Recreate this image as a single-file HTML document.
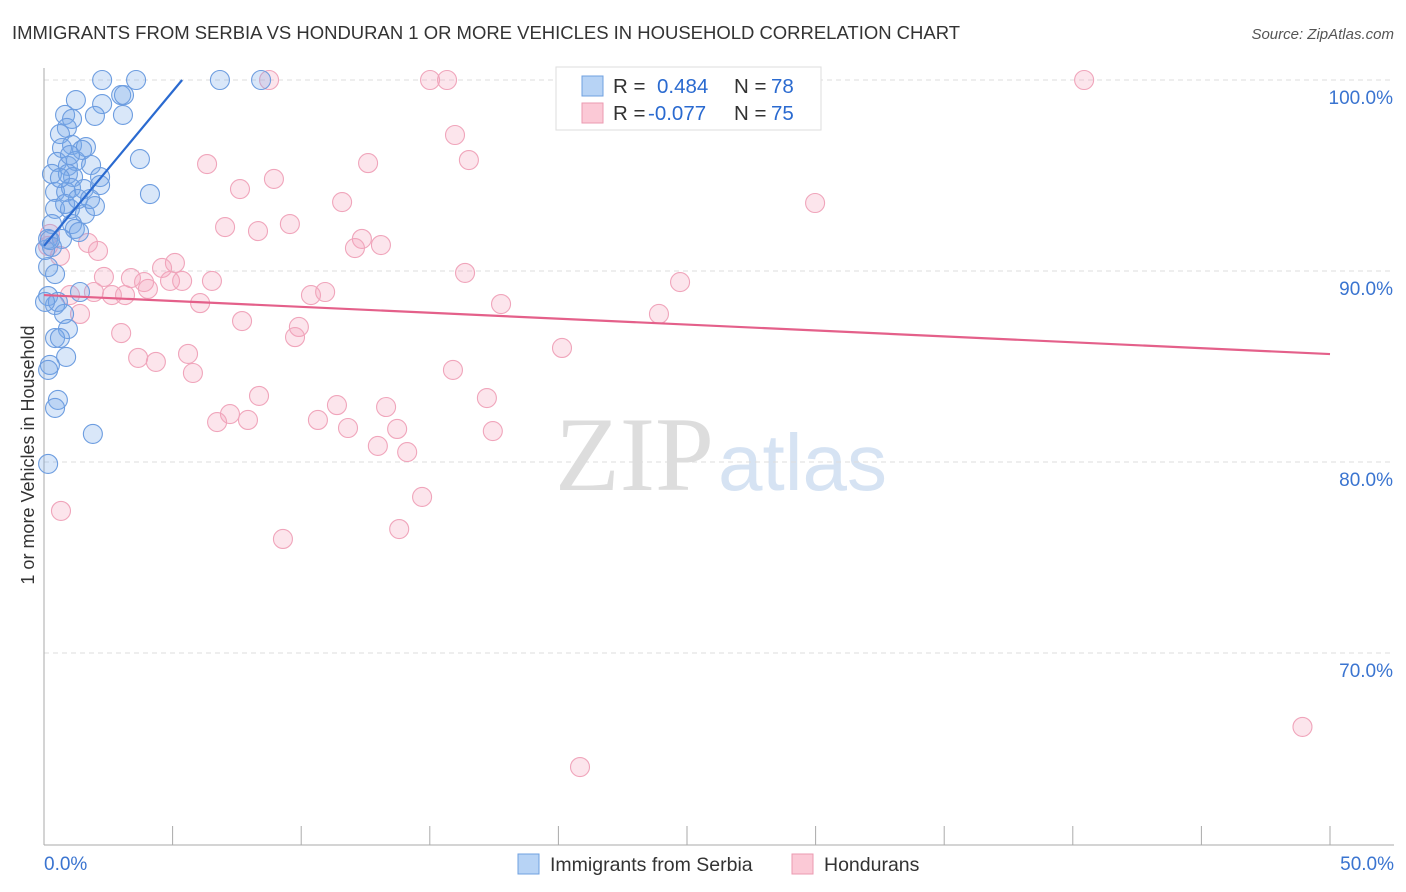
<!DOCTYPE html>
<html><head><meta charset="utf-8">
<style>
body{margin:0;background:#fff;font-family:"Liberation Sans",sans-serif;}
#wrap{position:relative;width:1406px;height:892px;overflow:hidden;}
</style></head>
<body><div id="wrap">
<svg id="svg" width="1406" height="892" xmlns="http://www.w3.org/2000/svg">
<text x="12" y="39" font-size="18.4" fill="#333" textLength="948" lengthAdjust="spacingAndGlyphs">IMMIGRANTS FROM SERBIA VS HONDURAN 1 OR MORE VEHICLES IN HOUSEHOLD CORRELATION CHART</text>
<text x="1394" y="39" font-size="15" fill="#555" text-anchor="end" font-style="italic">Source: ZipAtlas.com</text>
<text x="34" y="455" font-size="18" fill="#333" text-anchor="middle" transform="rotate(-90 34 455)">1 or more Vehicles in Household</text>
<text x="555" y="490" font-size="106" fill="#ddd" font-family="Liberation Serif,serif">ZIP</text>
<text x="718" y="490" font-size="80" fill="#d6e3f3">atlas</text>
<g id="grid"></g><g id="axes"></g><g id="pts"></g><g id="lines"></g>
<g>
<rect x="556" y="67" width="265" height="63" fill="#fff" stroke="#ddd"/>
<rect x="582" y="76" width="21" height="20" fill="#b7d3f5" stroke="#6fa0e0"/>
<rect x="582" y="103" width="21" height="20" fill="#fbc9d6" stroke="#eb9ab0"/>
<text x="613" y="93" font-size="20.5" fill="#333">R = </text><text x="657" y="93" font-size="20.5" fill="#2a6ad0">0.484</text>
<text x="734" y="93" font-size="20.5" fill="#333">N = </text><text x="771" y="93" font-size="20.5" fill="#2a6ad0">78</text>
<text x="613" y="120" font-size="20.5" fill="#333">R = </text><text x="648" y="120" font-size="20.5" fill="#2a6ad0">-0.077</text>
<text x="734" y="120" font-size="20.5" fill="#333">N = </text><text x="771" y="120" font-size="20.5" fill="#2a6ad0">75</text>
</g>
<g>
<rect x="518" y="854" width="21" height="20" fill="#b7d3f5" stroke="#6fa0e0"/>
<text x="550" y="871" font-size="19.5" fill="#333">Immigrants from Serbia</text>
<rect x="792" y="854" width="21" height="20" fill="#fbc9d6" stroke="#eb9ab0"/>
<text x="824" y="871" font-size="19.5" fill="#333">Hondurans</text>
</g>
</svg>
<script>
const yTicks=[100,90,80,70];
const yTickLabels=["100.0%","90.0%","80.0%","70.0%"];
const xTickLabels=["0.0%","50.0%"];
const blueX=[2.26,3.58,6.84,8.44,2.26,3.0,3.11,1.24,0.82,1.09,0.89,1.98,3.07,0.62,1.09,0.7,1.63,0.51,0.93,1.24,1.83,0.31,0.93,1.13,2.18,0.43,0.86,1.05,1.55,2.18,4.12,3.73,0.43,1.01,1.59,1.98,0.31,1.09,1.2,0.7,0.16,0.31,0.16,0.43,0.16,0.43,0.78,1.40,0.93,0.43,0.86,0.23,0.16,0.54,0.43,1.9,0.16,0.62,1.36,0.04,0.62,1.48,0.82,1.32,1.79,1.01,0.54,0.23,0.04];
const blueY=[100,100,100,100,98.74,99.21,99.21,98.95,98.17,97.96,97.49,98.12,98.17,97.17,96.6,96.44,96.49,95.71,95.5,95.76,95.55,95.08,95.08,94.92,94.92,94.14,94.14,94.35,94.29,94.5,94.03,95.86,93.25,93.25,92.99,93.4,92.46,92.46,92.2,91.68,91.68,91.26,90.21,89.84,88.69,88.22,87.75,88.9,86.96,86.49,85.5,85.08,84.82,83.25,82.83,81.47,79.9,86.49,92.04,91.1,94.87,96.34,93.51,93.77,93.77,96.07,88.38,91.62,88.38];
const pinkX=[8.75,15.01,15.67,40.44,15.98,16.52,6.34,12.6,7.62,8.94,11.59,29.98,7.04,8.32,9.56,12.36,13.1,12.09,1.71,2.1,5.09,4.59,2.33,3.38,3.89,4.9,5.37,6.53,16.37,24.73,4.04,1.94,2.64,3.15,6.07,10.38,10.93,17.77,23.91,1.4,7.7,9.91,9.76,3.0,20.14,3.66,4.35,5.6,5.79,15.9,8.36,17.22,11.39,13.3,7.23,6.73,7.93,10.65,11.82,13.73,17.45,12.98,14.12,14.7,0.66,13.81,9.29,20.84,48.93,0.62,0.23,1.01,0.16];
const pinkY=[100,100,100,100,97.12,95.81,95.6,95.65,94.29,94.82,93.61,93.56,92.3,92.09,92.46,91.68,91.36,91.2,91.47,91.05,90.42,90.16,89.69,89.63,89.42,89.48,89.48,89.48,89.9,89.42,89.06,88.9,88.74,88.74,88.32,88.74,88.9,88.27,87.75,87.75,87.38,87.07,86.54,86.75,85.97,85.45,85.24,85.66,84.66,84.82,83.46,83.35,82.98,82.88,82.51,82.09,82.2,82.2,81.78,81.73,81.62,80.84,80.52,78.17,77.44,76.49,75.97,64.03,66.13,90.79,91.94,88.74,91.31];
const blueLine=[0,91.31,5.37,100];
const pinkLine=[0,88.74,50,85.65];
const X=v=>44+v*25.72, Y=v=>80+(100-v)*19.1;
const NS="http://www.w3.org/2000/svg";
function mk(t,a,p){const e=document.createElementNS(NS,t);for(const k in a)e.setAttribute(k,a[k]);p.appendChild(e);return e;}
const grid=document.getElementById('grid'),axes=document.getElementById('axes'),pts=document.getElementById('pts'),lines=document.getElementById('lines');
yTicks.forEach((v,i)=>{
 const l=mk('line',{x1:44,x2:1394,y1:Y(v),y2:Y(v),stroke:'#ddd','stroke-dasharray':'5,4'},grid);
 
 
 const t=mk('text',{x:1393,y:Y(v)+24,'font-size':19,fill:'#3a74d0','text-anchor':'end'},grid);t.textContent=yTickLabels[i];
 
 
});
mk('line',{x1:44,x2:44,y1:68,y2:845,stroke:'#aaa'},axes);
mk('line',{x1:44,x2:1394,y1:845,y2:845,stroke:'#aaa'},axes);
for(let i=0;i<=10;i++){const tk=mk('line',{x1:X(i*5),x2:X(i*5),y1:826,y2:845,stroke:'#aaa'},axes);
 
 }
let t0=mk('text',{x:44,y:870,'font-size':19,fill:'#3a74d0'},axes);t0.textContent=xTickLabels[0];


let t1=mk('text',{x:1394,y:870,'font-size':19,fill:'#3a74d0','text-anchor':'end'},axes);t1.textContent=xTickLabels[1];


pinkX.forEach((x,i)=>{const c=mk('circle',{cx:X(x),cy:Y(pinkY[i]),r:9.5,fill:'rgba(244,160,188,0.28)',stroke:'#f0a5bb','stroke-width':1.1},pts);
 
 });
blueX.forEach((x,i)=>{const c=mk('circle',{cx:X(x),cy:Y(blueY[i]),r:9.5,fill:'rgba(120,170,235,0.28)',stroke:'#6d9de0','stroke-width':1.1},pts);
 
 });
const bl=mk('line',{x1:X(blueLine[0]),y1:Y(blueLine[1]),x2:X(blueLine[2]),y2:Y(blueLine[3]),stroke:'#2a6ad0','stroke-width':2.2},lines);


const pl=mk('line',{x1:X(pinkLine[0]),y1:Y(pinkLine[1]),x2:X(pinkLine[2]),y2:Y(pinkLine[3]),stroke:'#e4608a','stroke-width':2.2},lines);


</script>
</div></body></html>
